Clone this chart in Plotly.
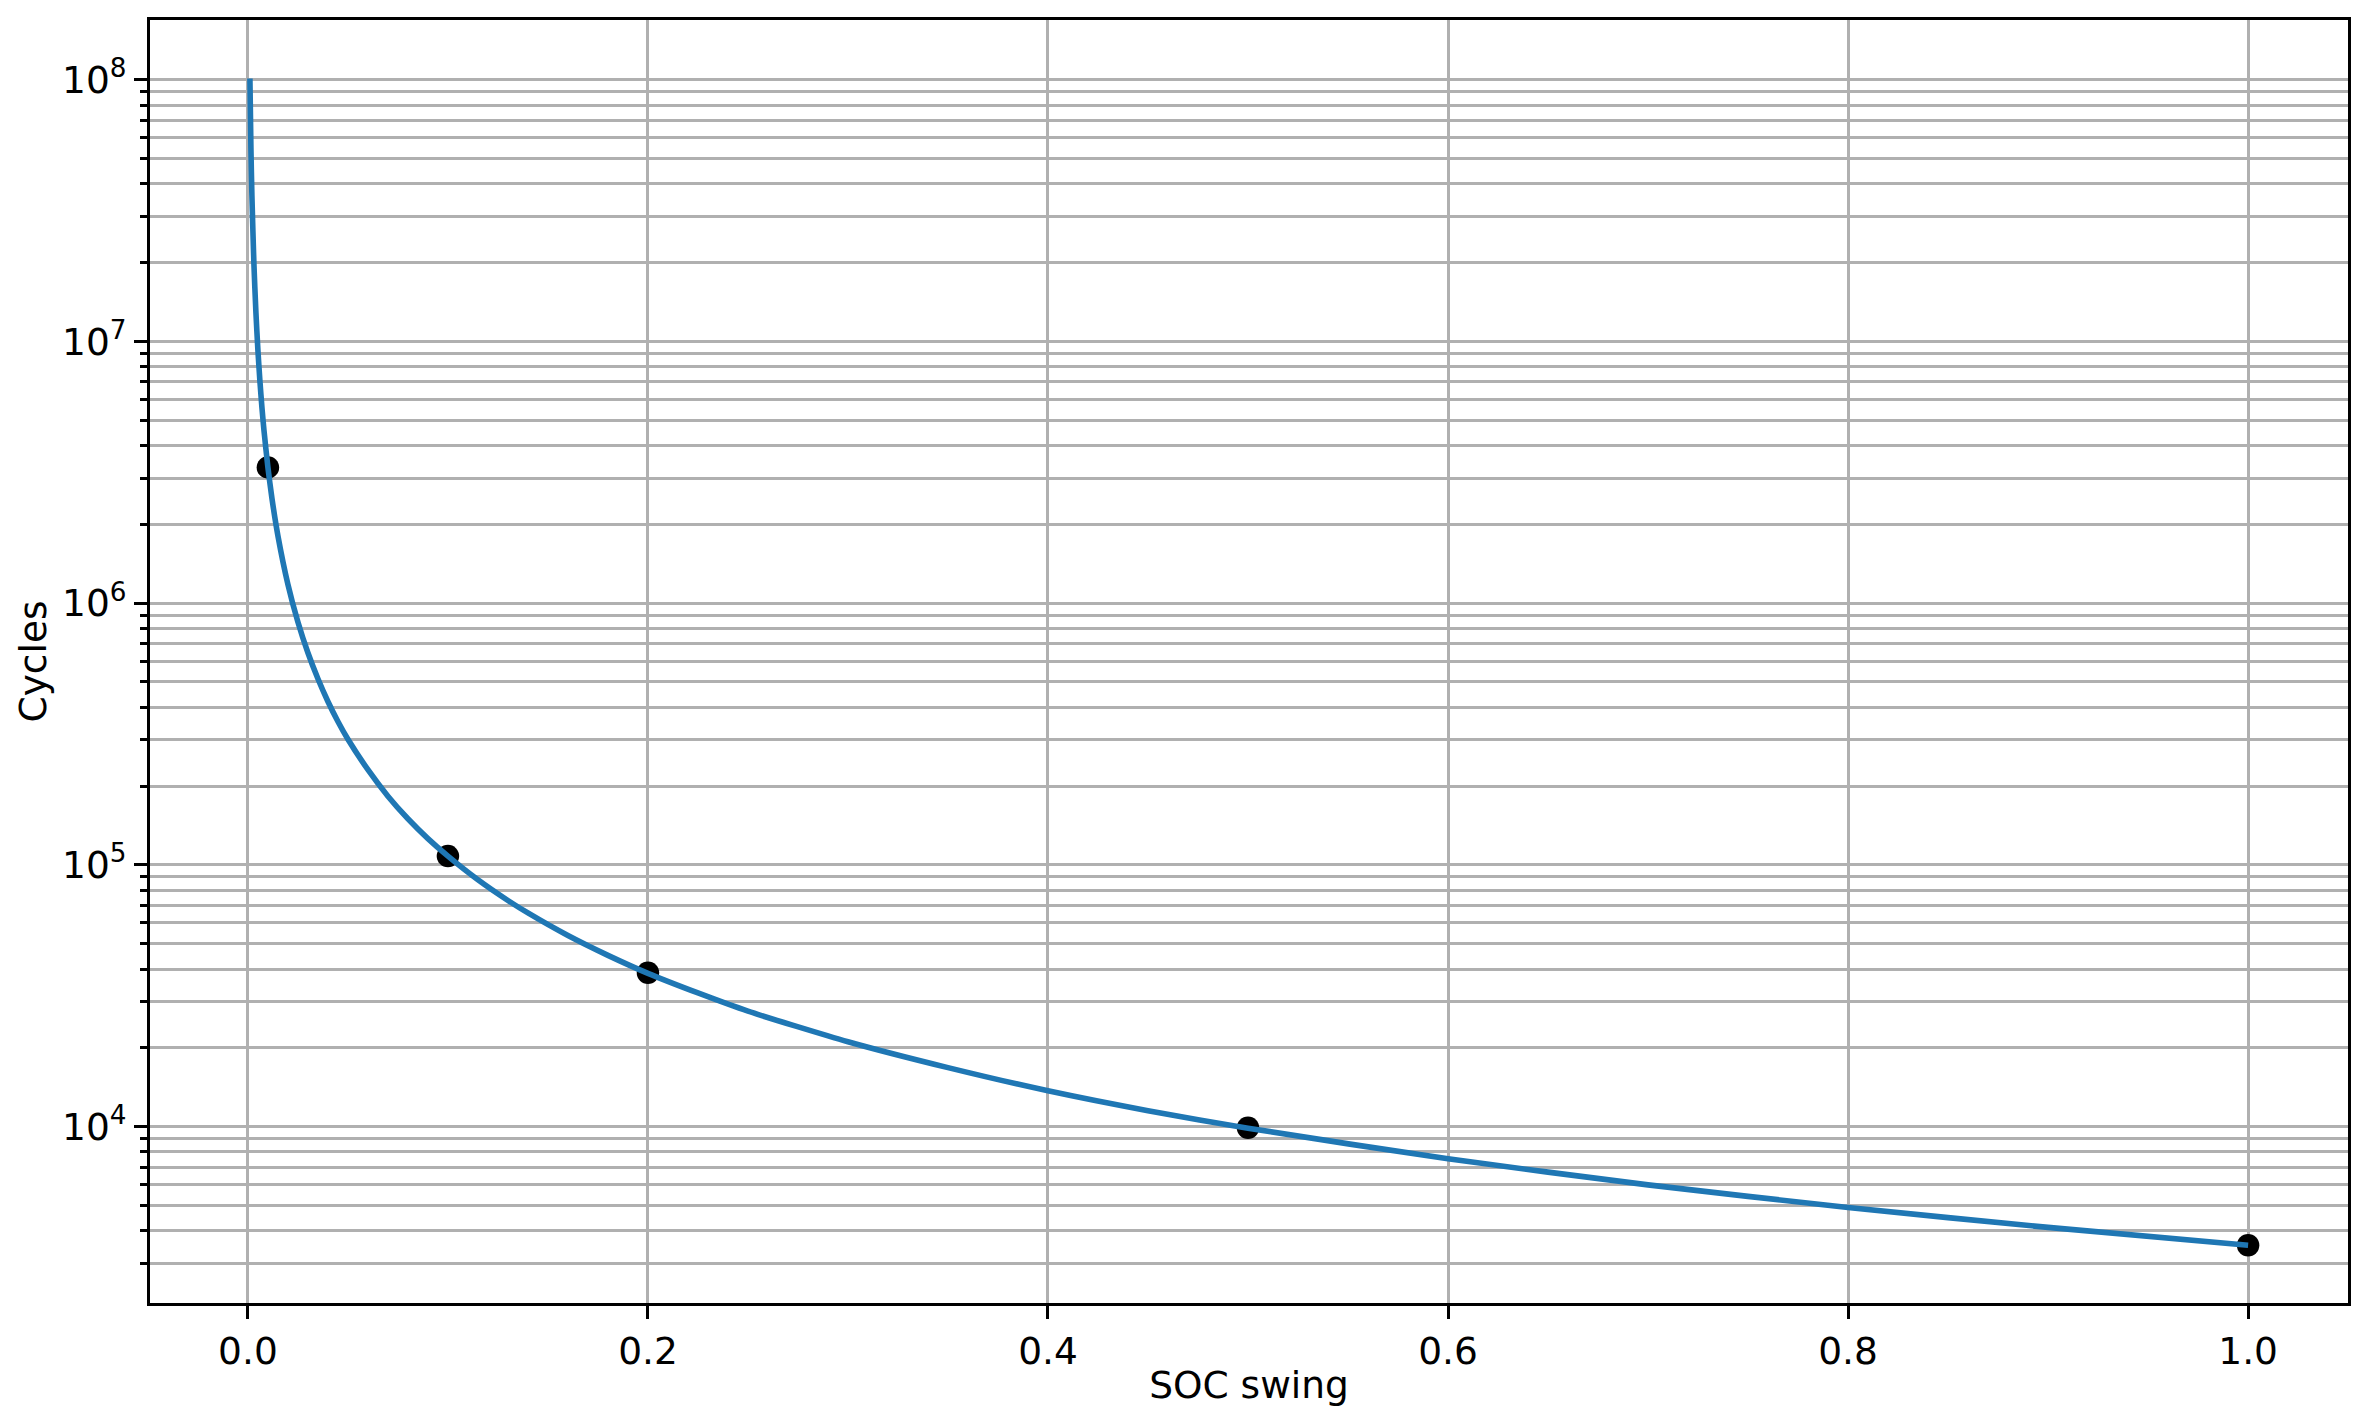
import plotly.graph_objects as go

# courbe ajustée
soc_courbe = [0.001, 0.0015, 0.002, 0.003, 0.004, 0.005, 0.006, 0.007, 0.008, 0.01,
              0.012, 0.015, 0.02, 0.025, 0.03, 0.035, 0.04, 0.045, 0.05, 0.06,
              0.07, 0.08, 0.09, 0.1, 0.115, 0.13, 0.14, 0.16, 0.18, 0.2,
              0.225, 0.25, 0.3, 0.35, 0.4, 0.45, 0.5, 0.6, 0.7, 0.8, 0.9, 1.0]
cycles_courbe = [1.01e8, 5.5e7, 3.6e7, 1.98e7, 1.29e7, 9.25e6, 7.06e6, 5.6e6, 4.6e6, 3.3e6,
                 2.52e6, 1.81e6, 1.18e6, 8.47e5, 6.46e5, 5.14e5, 4.21e5, 3.53e5, 3.02e5, 2.31e5,
                 1.83e5, 1.5e5, 1.26e5, 1.08e5, 8.77e4, 7.31e4, 6.55e4, 5.37e4, 4.51e4, 3.85e4,
                 3.24e4, 2.76e4, 2.11e4, 1.68e4, 1.37e4, 1.15e4, 9.86e3, 7.53e3, 5.99e3, 4.91e3, 4.12e3, 3.52e3]

# points mesurés
soc_points = [0.01, 0.1, 0.2, 0.5, 1.0]
cycles_points = [3.3e6, 1.08e5, 3.87e4, 9.9e3, 3.52e3]

x_ticks = [0.0, 0.2, 0.4, 0.6, 0.8, 1.0]
decades = [3, 4, 5, 6, 7, 8]

y_major = [10 ** d for d in decades]
y_labels = [f"10<sup>{d}</sup>" for d in decades]
y_minor = [m * 10 ** d for d in decades for m in range(2, 10)]

police = dict(family="DejaVu Sans", size=37.5, color="black")
grille = "#b0b0b0"

fig = go.Figure()

fig.add_trace(go.Scatter(
    x=soc_points, y=cycles_points,
    mode="markers",
    marker=dict(size=22.5, color="black"),
    showlegend=False
))

fig.add_trace(go.Scatter(
    x=soc_courbe, y=cycles_courbe,
    mode="lines",
    line=dict(color="#1f77b4", width=5.6, shape="spline", smoothing=0.6),
    showlegend=False
))

fig.update_layout(
    width=2372,
    height=1422,
    margin=dict(l=150, r=24, t=20, b=119),
    paper_bgcolor="white",
    plot_bgcolor="white",
    font=police,
    xaxis=dict(
        range=[-0.04895, 1.04995],
        tickvals=x_ticks,
        ticktext=[f"{v:.1f}" for v in x_ticks],
        ticks="outside", ticklen=13, tickwidth=3, tickcolor="black",
        tickfont=police,
        showgrid=True, gridcolor=grille, gridwidth=3,
        showline=True, mirror=True, linecolor="black", linewidth=3,
        zeroline=False,
        title=dict(text="SOC swing", font=police, standoff=0),
    ),
    yaxis=dict(
        type="log",
        range=[3.326, 8.228],
        tickvals=y_major,
        ticktext=y_labels,
        ticks="outside", ticklen=13, tickwidth=3, tickcolor="black",
        tickfont=police,
        showgrid=True, gridcolor=grille, gridwidth=3,
        minor=dict(tickmode="array", tickvals=y_minor, ticks="outside", ticklen=7.5,
                   tickwidth=2.5, tickcolor="black", showgrid=True, gridcolor=grille, gridwidth=3),
        showline=True, mirror=True, linecolor="black", linewidth=3,
        zeroline=False,
        title=dict(text="Cycles", font=police, standoff=4),
    ),
)

# pas de marge autour du graphique dans la page, pas de barre d'outils
fig.write_html("out.html", config={"displayModeBar": False},
               post_script="document.body.style.margin='0';")
